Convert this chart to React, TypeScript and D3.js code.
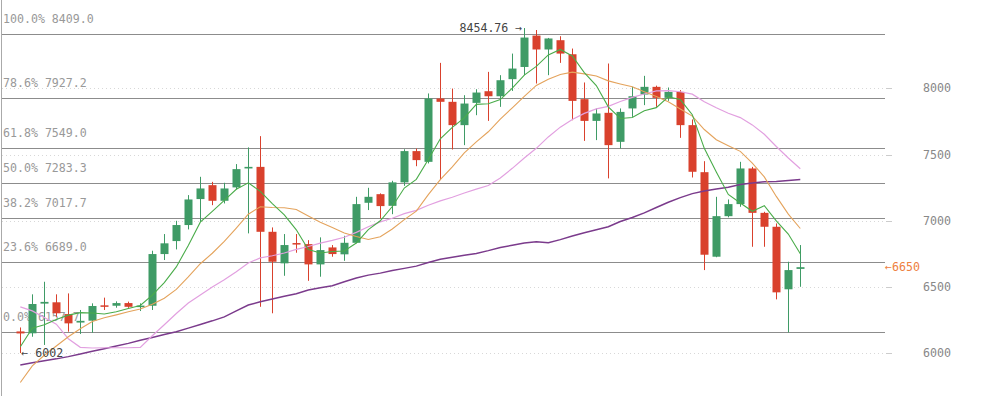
import React, { useRef, useEffect } from "react";
import * as d3 from "d3";

// daily candles, oldest first
const opens = [6165, 6151, 6375, 6385, 6296, 6232, 6246, 6362, 6359, 6379, 6352, 6359, 6749, 6847, 6968, 7164,
    7269, 7151, 7252, 7395, 7407, 6917, 6679, 6832, 6824, 6671, 6799, 6747, 6834, 7136, 7201, 7113,
    7290, 7526, 7445, 7923, 7898, 7722, 7890, 7978, 7940, 8069, 8161, 8398, 8293, 8363, 8257, 7918,
    7754, 7815, 7596, 7848, 7953, 8011, 7928, 7973, 7722, 7367, 6729, 7035, 7126, 7395, 7060, 6955,
    6483, 6637];
const highs = [6195, 6445, 6540, 6445, 6452, 6327, 6377, 6420, 6392, 6390, 6377, 6774, 6900, 7000, 7194, 7332,
    7294, 7287, 7428, 7554, 7639, 6950, 6900, 6900, 6854, 6875, 6817, 6887, 7181, 7249, 7207, 7302,
    7540, 7545, 7961, 8192, 7998, 7948, 7993, 8124, 8099, 8262, 8454.76, 8440, 8380, 8393, 8300, 8044,
    7848, 8187, 7848, 8011, 8094, 8020, 8006, 7986, 7765, 7450, 7181, 7161, 7445, 7407, 7068, 6980,
    6691, 6817];
const lows = [6002, 6125, 6063, 6276, 6163, 6146, 6155, 6327, 6344, 6343, 6319, 6327, 6704, 6784, 6935, 6992,
    7118, 7131, 7237, 6905, 6351, 6302, 6585, 6759, 6547, 6578, 6729, 6698, 6830, 7081, 7018, 7050,
    7264, 7412, 7433, 7307, 7538, 7571, 7797, 7754, 7860, 7980, 8099, 8036, 8099, 8192, 7759, 7603,
    7609, 7320, 7546, 7784, 7873, 7860, 7905, 7626, 7327, 6628, 6725, 7026, 7106, 6804, 6804, 6407,
    6157.7, 6502];
const closes = [6150, 6372, 6388, 6302, 6226, 6245, 6357, 6356, 6379, 6351, 6360, 6749, 6830, 6968, 7161, 7244,
    7151, 7244, 7390, 7407, 6917, 6691, 6817, 6826, 6671, 6779, 6749, 6834, 7126, 7181, 7111, 7290,
    7526, 7458, 7923, 7898, 7722, 7885, 7968, 7940, 8061, 8149, 8383, 8293, 8376, 8262, 7905, 7754,
    7810, 7571, 7822, 7940, 8011, 7928, 7973, 7722, 7370, 6744, 7035, 7126, 7395, 7060, 6955, 6460,
    6628, 6650];

// moving averages
const ma5 = [6050, 6190, 6215, 6255, 6288, 6307, 6304, 6297, 6313, 6338, 6361, 6439, 6534, 6652, 6814, 6990,
    7071, 7154, 7238, 7287, 7222, 7130, 7044, 6932, 6784, 6757, 6768, 6772, 6832, 6934, 7000, 7108,
    7247, 7313, 7462, 7619, 7705, 7777, 7879, 7883, 7915, 8001, 8100, 8165, 8252, 8293, 8244, 8118,
    8021, 7860, 7772, 7779, 7831, 7854, 7935, 7915, 7801, 7547, 7369, 7199, 7134, 7072, 7114, 6999,
    6900, 6751];
const ma10 = [5780, 5905, 5985, 6055, 6125, 6185, 6240, 6268, 6290, 6313, 6334, 6371, 6416, 6482, 6576, 6676,
    6755, 6844, 6945, 7050, 7106, 7100, 7099, 7085, 7036, 6989, 6949, 6908, 6882, 6859, 6879, 6938,
    7009, 7073, 7198, 7310, 7407, 7512, 7596, 7672, 7767, 7853, 7939, 8022, 8068, 8104, 8122, 8109,
    8093, 8056, 8033, 8012, 7974, 7938, 7898, 7844, 7790, 7689, 7612, 7567, 7524, 7436, 7331, 7184,
    7050, 6942];
const ma20 = [6350, 6320, 6270, 6220, 6110, 6045, 6040, 6042, 6042, 6042, 6045, 6132, 6215, 6300, 6380, 6440,
    6500, 6555, 6615, 6682, 6720, 6736, 6757, 6784, 6806, 6832, 6852, 6876, 6913, 6955, 6992, 7019,
    7054, 7079, 7117, 7150, 7178, 7210, 7239, 7266, 7323, 7396, 7474, 7547, 7633, 7707, 7765, 7811,
    7845, 7864, 7900, 7932, 7957, 7980, 7983, 7974, 7956, 7899, 7853, 7812, 7779, 7724, 7653, 7561,
    7474, 7393];
const ma60 = [5912, 5928, 5944, 5958, 5975, 5995, 6015, 6035, 6055, 6075, 6098, 6120, 6142, 6163, 6190, 6218,
    6245, 6275, 6320, 6364, 6389, 6410, 6430, 6450, 6477, 6495, 6510, 6540, 6568, 6590, 6605, 6625,
    6641, 6658, 6685, 6709, 6725, 6740, 6754, 6775, 6799, 6815, 6832, 6842, 6834, 6858, 6885, 6910,
    6932, 6955, 6995, 7025, 7060, 7100, 7140, 7175, 7205, 7225, 7240, 7253, 7274, 7285, 7295, 7297,
    7304, 7311];

// fibonacci retracement levels
const fibPercents = ["100.0%", "78.6%", "61.8%", "50.0%", "38.2%", "23.6%", "0.0%"];
const fibValues = [8409.0, 7927.2, 7549.0, 7283.3, 7017.7, 6689.0, 6157.7];

const priceTicks = [6000, 6500, 7000, 7500, 8000];
const lastPrice = 6650;

function App() {
    const svgRef = useRef(null);

    const width = 981;
    const height = 396;
    const plotRight = 885;
    const mono = "'DejaVu Sans Mono', monospace";

    useEffect(() => {
        const svg = d3.select(svgRef.current);
        svg.selectAll("*").remove();

        const x = d3.scaleLinear().domain([0, closes.length - 1]).range([20.3, 800.3]);
        const y = d3.scaleLinear().domain([6000, 8000]).range([353.3, 88.3]);
        const bodyW = 8;

        // left border
        svg.append("line")
            .attr("x1", 1.5).attr("x2", 1.5).attr("y1", 0).attr("y2", height)
            .attr("stroke", "#aaa");

        // dotted price grid + right axis
        const grid = svg.append("g");
        grid.selectAll("line.grid")
            .data(priceTicks)
            .join("line")
            .attr("x1", 2).attr("x2", plotRight)
            .attr("y1", (d) => Math.round(y(d)) + 0.5).attr("y2", (d) => Math.round(y(d)) + 0.5)
            .attr("stroke", "#d8d8d8")
            .attr("stroke-dasharray", "1 3");
        grid.selectAll("line.tick")
            .data(priceTicks)
            .join("line")
            .attr("x1", plotRight + 1).attr("x2", plotRight + 7)
            .attr("y1", (d) => Math.round(y(d)) + 0.5).attr("y2", (d) => Math.round(y(d)) + 0.5)
            .attr("stroke", "#ccc");
        grid.selectAll("text")
            .data(priceTicks)
            .join("text")
            .attr("x", 923)
            .attr("y", (d) => y(d) + 4)
            .attr("font-family", mono)
            .attr("font-size", "11.6px")
            .attr("fill", "#888")
            .text((d) => d);

        // fibonacci lines
        const fib = svg.append("g");
        fib.selectAll("line")
            .data(fibValues)
            .join("line")
            .attr("x1", 2).attr("x2", plotRight)
            .attr("y1", (d) => Math.round(y(d)) + 0.5).attr("y2", (d) => Math.round(y(d)) + 0.5)
            .attr("stroke", "#8c8c8c");
        fib.selectAll("text")
            .data(fibValues)
            .join("text")
            .attr("x", 3)
            .attr("y", (d) => y(d) - 11)
            .attr("font-family", mono)
            .attr("font-size", "11.6px")
            .attr("fill", "#999")
            .text((d, i) => fibPercents[i] + " " + d.toFixed(1));

        // candles
        const up = "#3f9b66";
        const down = "#d9412d";
        const candles = svg.append("g")
            .selectAll("g")
            .data(closes.map((c, i) => ({ i, o: opens[i], h: highs[i], l: lows[i], c })))
            .join("g");
        candles.append("line")
            .attr("x1", (d) => Math.round(x(d.i)) + 0.5).attr("x2", (d) => Math.round(x(d.i)) + 0.5)
            .attr("y1", (d) => y(d.h)).attr("y2", (d) => y(d.l))
            .attr("stroke", (d) => (d.c >= d.o ? up : down));
        candles.append("rect")
            .attr("x", (d) => Math.round(x(d.i)) + 0.5 - bodyW / 2)
            .attr("width", bodyW)
            .attr("y", (d) => y(Math.max(d.o, d.c)))
            .attr("height", (d) => Math.max(1.5, Math.abs(y(d.o) - y(d.c))))
            .attr("fill", (d) => (d.c >= d.o ? up : down));

        // moving averages
        const maLine = d3.line().x((d, i) => x(i)).y((d) => y(d));
        const mas = [
            { data: ma60, color: "#7b3b8c", w: 1.5 },
            { data: ma20, color: "#e2a0e0", w: 1.2 },
            { data: ma10, color: "#e4a35c", w: 1.1 },
            { data: ma5, color: "#4aac4a", w: 1.1 },
        ];
        svg.append("g")
            .selectAll("path")
            .data(mas)
            .join("path")
            .attr("d", (d) => maLine(d.data))
            .attr("fill", "none")
            .attr("stroke", (d) => d.color)
            .attr("stroke-width", (d) => d.w);

        // high / low / last price markers
        const hiIdx = d3.maxIndex(highs);
        const loIdx = d3.minIndex(lows.slice(0, 10));
        svg.append("text")
            .attr("x", x(hiIdx) - 2)
            .attr("y", y(highs[hiIdx]) + 4)
            .attr("text-anchor", "end")
            .attr("font-family", mono)
            .attr("font-size", "11.6px")
            .attr("fill", "#444")
            .text(highs[hiIdx] + " \u2192");
        svg.append("text")
            .attr("x", x(loIdx) + 1)
            .attr("y", y(lows[loIdx]) + 4)
            .attr("font-family", mono)
            .attr("font-size", "11.6px")
            .attr("fill", "#444")
            .text("\u2190 " + lows[loIdx]);
        svg.append("text")
            .attr("x", plotRight)
            .attr("y", y(lastPrice) + 4)
            .attr("font-family", mono)
            .attr("font-size", "11.6px")
            .attr("fill", "#ee8040")
            .text("\u2190" + lastPrice);
    }, []);

    return (
        <div style={{ position: "absolute", left: 0, top: 0 }}>
            <svg ref={svgRef} width={width} height={height} style={{ display: "block", background: "#fff" }}></svg>
        </div>
    );
}

export default App;
